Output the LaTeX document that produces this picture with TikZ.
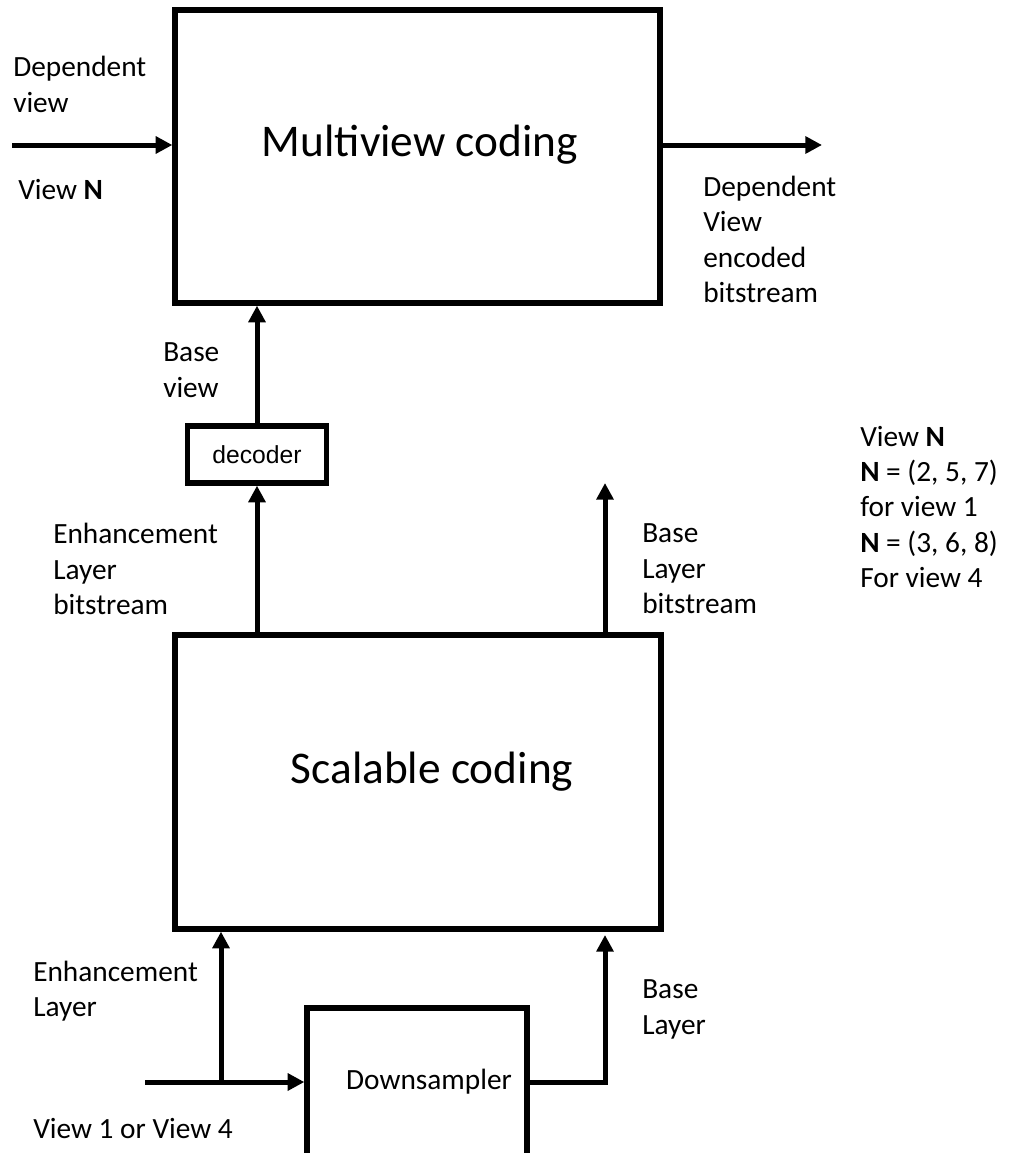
\documentclass[tikz,border=0pt]{standalone}
\usepackage{fontspec}
\setmainfont{Carlito}
\newfontfamily\arialfont{Liberation Sans}
\usetikzlibrary{arrows.meta}
\begin{document}
\begin{tikzpicture}[x=0.75pt,y=-0.75pt,
  block/.style={draw, line width=4pt, inner sep=0pt, line join=miter},
  txt/.style={inner sep=0pt, align=left, anchor=west, font=\fontsize{22}{26.6}\selectfont},
  bigtxt/.style={inner sep=0pt, font=\fontsize{34}{40}\selectfont},
  wire/.style={line width=3.75pt, line join=miter},
  arr/.style={wire, -{Triangle[length=12.5pt,width=12.5pt]}}]
\useasboundingbox (0,0) rectangle (1016,1153);
\clip (0,0) rectangle (1016,1153);

% blocks
\node[block, minimum width=363.75pt, minimum height=219.75pt] (mv) at (417.5,156.5) {};
\node[bigtxt] (mvtext) at (420,145) {Multiview coding};
\node[block, minimum width=364.5pt, minimum height=220.5pt] (sc) at (418,782) {};
\node[bigtxt] (sctext) at (432,772) {Scalable coding};
\node[block, minimum width=104.25pt, minimum height=42.75pt,
      font=\arialfont\fontsize{18.5}{22}\selectfont] (dec) at (257,454.5) {decoder};
\node[block, minimum width=165pt, minimum height=144pt] (ds) at (417,1104) {};
\node[inner sep=0pt, font=\fontsize{22}{26.6}\selectfont] (dstext) at (429,1082) {Downsampler};

% free ends
\coordinate (in1) at (12,145);
\coordinate (out1) at (822,145);
\coordinate (blb) at (605,483);
\coordinate (in2) at (145,1082);
\coordinate (split) at (221,1082);
\coordinate (bend) at (605,1082);
\coordinate (blin) at (605,935);

% connectors
\draw[arr] (in1) -- (in1 -| mv.west);
\draw[arr] (out1 -| mv.east) -- (out1);
\draw[arr] (dec.north) -- (dec.north |- mv.south);
\draw[arr] (dec.south |- sc.north) -- (dec.south);
\draw[arr] (blb |- sc.north) -- (blb);
\draw[arr] (in2) -- (in2 -| ds.west);
\draw[arr] (split) -- (split |- sc.south);
\draw[arr] (bend -| ds.east) -- (bend) -- (blin);

% labels
\node[txt] (l1) at (13,84.5) {Dependent\\view};
\node[txt] (l2) at (18,190) {View \textbf{N}};
\node[txt] (l3) at (703,239.5) {Dependent\\View\\encoded\\bitstream};
\node[txt] (l4) at (163,370) {Base\\view};
\node[txt] (l5) at (53,569) {Enhancement\\Layer\\bitstream};
\node[txt] (l6) at (642,569) {Base\\Layer\\bitstream};
\node[txt] (l7) at (860,507) {View \textbf{N}\\\textbf{N} = (2, 5, 7)\\for view 1\\\textbf{N} = (3, 6, 8)\\For view 4};
\node[txt] (l8) at (33,991) {Enhancement\\Layer};
\node[txt] (l9) at (642,1009.5) {Base\\Layer};
\node[txt] (l10) at (33,1128) {View 1 or View 4};
\end{tikzpicture}
\end{document}
